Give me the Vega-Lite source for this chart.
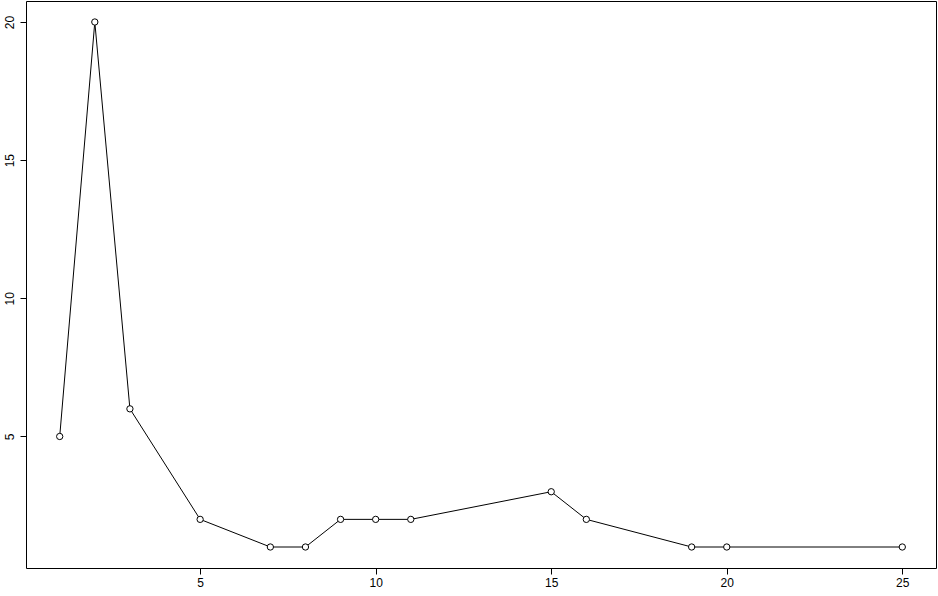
{
  "$schema": "https://vega.github.io/schema/vega-lite/v6.json",
  "width": 910,
  "height": 567,
  "autosize": "none",
  "padding": {"left": 26, "top": 1, "right": 2, "bottom": 28},
  "background": "white",
  "config": {
    "view": {"stroke": "#000000", "strokeWidth": 1},
    "axis": {
      "domain": false,
      "grid": false,
      "ticks": true,
      "tickColor": "#000000",
      "tickSize": 6,
      "labelFont": "Liberation Sans",
      "labelFontSize": 12,
      "labelColor": "#000000",
      "title": null
    }
  },
  "data": {
    "values": [
      {"x": 1, "y": 5},
      {"x": 2, "y": 20},
      {"x": 3, "y": 6},
      {"x": 5, "y": 2},
      {"x": 7, "y": 1},
      {"x": 8, "y": 1},
      {"x": 9, "y": 2},
      {"x": 10, "y": 2},
      {"x": 11, "y": 2},
      {"x": 15, "y": 3},
      {"x": 16, "y": 2},
      {"x": 19, "y": 1},
      {"x": 20, "y": 1},
      {"x": 25, "y": 1}
    ]
  },
  "encoding": {
    "x": {
      "field": "x",
      "type": "quantitative",
      "scale": {"domain": [0.04, 25.96], "nice": false, "zero": false},
      "axis": {"values": [5, 10, 15, 20, 25], "labelPadding": 3, "labelFlush": false}
    },
    "y": {
      "field": "y",
      "type": "quantitative",
      "scale": {"domain": [0.24, 20.76], "nice": false, "zero": false},
      "axis": {"values": [5, 10, 15, 20], "labelAngle": -90, "labelAlign": "center", "labelBaseline": "bottom", "labelPadding": 4, "labelFlush": false}
    }
  },
  "layer": [
    {"mark": {"type": "line", "color": "#000000", "strokeWidth": 1}},
    {"mark": {"type": "point", "shape": "circle", "filled": true, "fill": "white", "stroke": "#000000", "strokeWidth": 1, "size": 40, "opacity": 1}}
  ]
}
